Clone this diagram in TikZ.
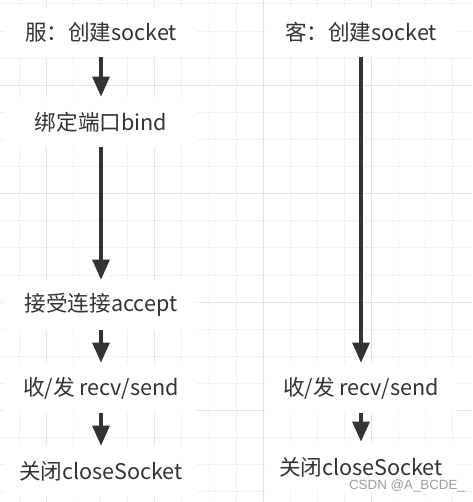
\documentclass[tikz,border=0pt]{standalone}
\usepackage{xcolor}
\usepackage{fontspec}
\setmainfont{Noto Sans CJK SC}
\newfontfamily\markfont{Liberation Sans}
\usetikzlibrary{positioning, arrows.meta}
\definecolor{gridlight}{HTML}{F1F1F1}
\definecolor{griddark}{HTML}{E4E4E4}
\definecolor{ink}{HTML}{333333}

\begin{document}
\begin{tikzpicture}[
    x=0.75pt, y=-0.75pt,
    stage/.style={rectangle, fill=white, text=ink, inner sep=0pt, minimum width=144pt, minimum height=37.5pt, font=\fontsize{16.2}{19}\selectfont},
    flow/.style={draw=ink, line width=2.8pt},
    wmark/.style={text=black!38, inner sep=0pt, font=\markfont\fontsize{10}{12}\selectfont},
    >={Triangle[length=15pt, width=12.5pt]}
    ]

        \useasboundingbox[fill=white] (0,0) rectangle (472,502);

        % background grid
        \foreach \k in {0,...,16}
            \draw[gridlight, line width=0.75pt] (19.3+27.1*\k, 0) -- (19.3+27.1*\k, 502);
        \foreach \k in {0,...,18}
            \draw[gridlight, line width=0.75pt] (0, 4+27.1*\k) -- (472, 4+27.1*\k);
        \foreach \k in {1,5,9,13}
            \draw[griddark, line width=0.75pt] (19.3+27.1*\k, 0) -- (19.3+27.1*\k, 502);
        \foreach \k in {3,7,11,15}
            \draw[griddark, line width=0.75pt] (0, 4+27.1*\k) -- (472, 4+27.1*\k);

        % server side
        \node[stage] (s1) at (101, 32) {服：创建socket};
        \node[stage] (s2) at (101, 122) {绑定端口bind};
        \node[stage] (s3) at (101, 305) {接受连接accept};
        \node[stage] (s4) at (101, 388) {收/发 recv/send};
        \node[stage] (s5) at (101, 471) {关闭closeSocket};

        % client side
        \node[stage] (c1) at (361, 32) {客：创建socket};
        \node[stage] (c2) at (361, 388) {收/发 recv/send};
        \node[stage] (c3) at (361, 467) {关闭closeSocket};

        \foreach \step in {1,...,4} {
            \pgfmathtruncatemacro{\next}{add(\step,1)}
            \draw[flow, ->] (s\step.south) -- (s\next.north);
        }
        \foreach \step in {1,2} {
            \pgfmathtruncatemacro{\next}{add(\step,1)}
            \draw[flow, ->] (c\step.south) -- (c\next.north);
        }

        \node[wmark] (mark) at (407, 486) {CSDN @A\_BCDE\_};
\end{tikzpicture}
\end{document}
